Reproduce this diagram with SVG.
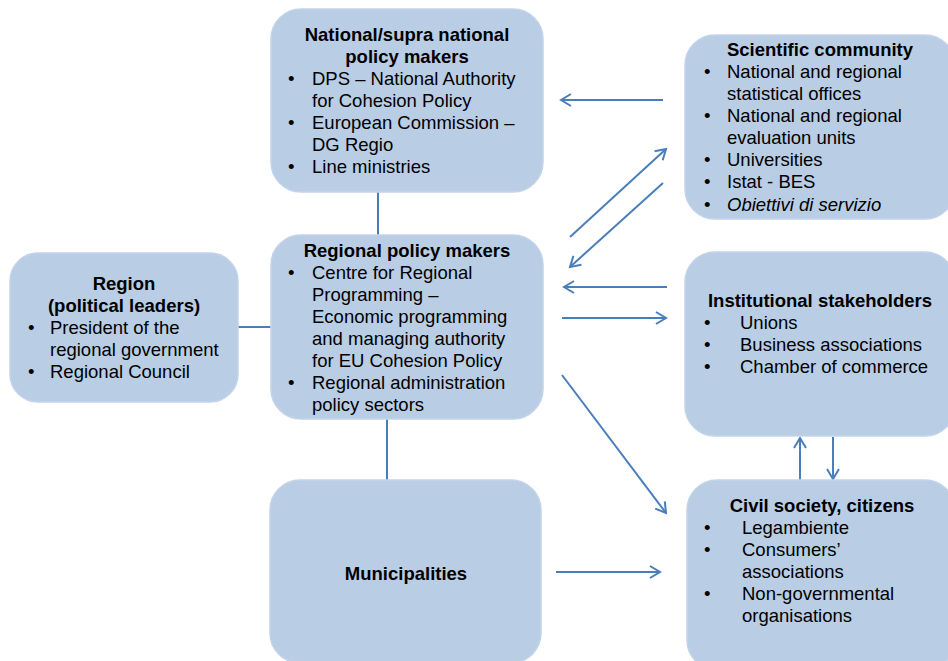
<svg xmlns="http://www.w3.org/2000/svg" width="948" height="661" viewBox="0 0 948 661">
<defs>
<marker id="ah" markerWidth="14" markerHeight="14" refX="11" refY="7" orient="auto" markerUnits="userSpaceOnUse">
<path d="M1,1 L11,7 L1,13" fill="none" stroke="#4A7EBB" stroke-width="2"/>
</marker>
<style>
.box{fill:#B9CDE5;stroke:#C3D4EA;stroke-width:1.5}
.t{font-family:"Liberation Sans",Arial,sans-serif;font-size:18.5px;fill:#000}
.b{font-weight:bold;text-anchor:middle}
.i{font-style:italic}
.ln{stroke:#4A7EBB;stroke-width:2;fill:none}
.ar{stroke:#4A7EBB;stroke-width:2;fill:none;marker-end:url(#ah)}
</style>
</defs>
<g id="connectors">
<line class="ln" x1="378" y1="192" x2="378" y2="236"/>
<line class="ln" x1="387" y1="418" x2="387" y2="481"/>
<line class="ln" x1="237" y1="327" x2="272" y2="327"/>
<line class="ar" x1="663" y1="100" x2="561" y2="100"/>
<line class="ar" x1="570" y1="237" x2="666" y2="149"/>
<line class="ar" x1="663" y1="183" x2="570" y2="267"/>
<line class="ar" x1="667" y1="287" x2="564" y2="287"/>
<line class="ar" x1="562" y1="318" x2="666" y2="318"/>
<line class="ar" x1="562" y1="375" x2="666" y2="513"/>
<line class="ar" x1="556" y1="572" x2="660" y2="572"/>
<line class="ar" x1="800" y1="480" x2="800" y2="438"/>
<line class="ar" x1="833" y1="437" x2="833" y2="479"/>
</g>
<g id="national">
<rect class="box" x="271" y="9" width="272" height="183" rx="30"/>
<text class="t b" x="407" y="41">National/supra national</text>
<text class="t b" x="407" y="63">policy makers</text>
<text class="t" x="288" y="85">•</text><text class="t" x="312" y="85">DPS – National Authority</text>
<text class="t" x="312" y="107">for Cohesion Policy</text>
<text class="t" x="288" y="129">•</text><text class="t" x="312" y="129">European Commission –</text>
<text class="t" x="312" y="151">DG Regio</text>
<text class="t" x="288" y="173">•</text><text class="t" x="312" y="173">Line ministries</text>
</g>
<g id="scientific">
<rect class="box" x="685" y="35" width="270" height="184" rx="30"/>
<text class="t b" x="820" y="56">Scientific community</text>
<text class="t" x="704" y="78">•</text><text class="t" x="727" y="78">National and regional</text>
<text class="t" x="727" y="100">statistical offices</text>
<text class="t" x="704" y="122">•</text><text class="t" x="727" y="122">National and regional</text>
<text class="t" x="727" y="144">evaluation units</text>
<text class="t" x="704" y="166">•</text><text class="t" x="727" y="166">Universities</text>
<text class="t" x="704" y="188">•</text><text class="t" x="727" y="188">Istat - BES</text>
<text class="t" x="704" y="211">•</text><text class="t i" x="727" y="211">Obiettivi di servizio</text>
</g>
<g id="region">
<rect class="box" x="10" y="253" width="228" height="149" rx="28"/>
<text class="t b" x="124" y="290">Region</text>
<text class="t b" x="124" y="312">(political leaders)</text>
<text class="t" x="28" y="334">•</text><text class="t" x="50" y="334">President of the</text>
<text class="t" x="50" y="356">regional government</text>
<text class="t" x="28" y="378">•</text><text class="t" x="50" y="378">Regional Council</text>
</g>
<g id="regional">
<rect class="box" x="271" y="235" width="272" height="184" rx="30"/>
<text class="t b" x="407" y="257">Regional policy makers</text>
<text class="t" x="288" y="279">•</text><text class="t" x="312" y="279">Centre for Regional</text>
<text class="t" x="312" y="301">Programming –</text>
<text class="t" x="312" y="323">Economic programming</text>
<text class="t" x="312" y="345">and managing authority</text>
<text class="t" x="312" y="367">for EU Cohesion Policy</text>
<text class="t" x="288" y="389">•</text><text class="t" x="312" y="389">Regional administration</text>
<text class="t" x="312" y="411">policy sectors</text>
</g>
<g id="institutional">
<rect class="box" x="685" y="252" width="270" height="184" rx="30"/>
<text class="t b" x="820" y="307">Institutional stakeholders</text>
<text class="t" x="704" y="329">•</text><text class="t" x="740" y="329">Unions</text>
<text class="t" x="704" y="351">•</text><text class="t" x="740" y="351">Business associations</text>
<text class="t" x="704" y="373">•</text><text class="t" x="740" y="373">Chamber of commerce</text>
</g>
<g id="municipalities">
<rect class="box" x="270" y="480" width="271" height="183" rx="30"/>
<text class="t b" x="406" y="580">Municipalities</text>
</g>
<g id="civil">
<rect class="box" x="687" y="480" width="268" height="190" rx="30"/>
<text class="t b" x="822" y="512">Civil society, citizens</text>
<text class="t" x="704" y="534">•</text><text class="t" x="742" y="534">Legambiente</text>
<text class="t" x="704" y="556">•</text><text class="t" x="742" y="556">Consumers’</text>
<text class="t" x="742" y="578">associations</text>
<text class="t" x="704" y="600">•</text><text class="t" x="742" y="600">Non-governmental</text>
<text class="t" x="742" y="622">organisations</text>
</g>
</svg>
